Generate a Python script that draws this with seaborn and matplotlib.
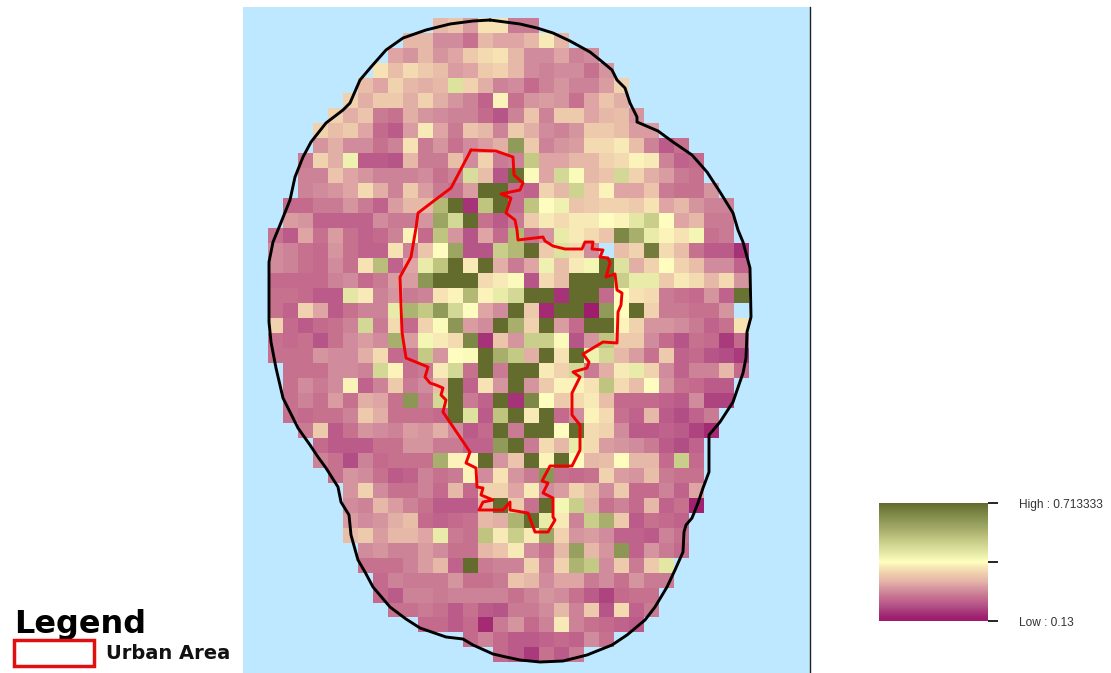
import matplotlib
matplotlib.use("Agg")
import matplotlib.pyplot as plt
from matplotlib.colors import LinearSegmentedColormap
from matplotlib.patches import Patch
import numpy as np
import seaborn as sns

_ = None

# cell values x 100, one list per raster row, blank cells are outside the buffer
row_00 = [_] * 11 + [33, 35, 30, 39, 39, 26, 26]
row_01 = [_] * 9 + [33, 33, 28, 28, 25, 33, 31, 31, 33, 40, 33]
row_02 = [_] * 8 + [31, 29, 33, 29, 31, 36, 38, 39, 33, 28, 28, 31, 27, 28]
row_03 = [_] * 7 + [39, 34, 38, 36, 34, 30, 31, 36, 37, 33, 28, 27, 28, 28, 25, 29]
row_04 = [_] * 6 + [34, 31, 37, 33, 32, 33, 48, 37, 32, 27, 28, 24, 27, 29, 27, 27, 30, 37]
row_05 = [_] * 5 + [37, 32, 36, 36, 32, 37, 32, 29, 27, 23, 41, 25, 29, 30, 29, 25, 31, 35, 32]
row_06 = [_] * 4 + [37, 32, 35, 26, 25, 32, 29, 28, 27, 27, 24, 21, 27, 35, 27, 36, 36, 31, 33, 34, 29]
row_07 = [_] * 3 + [37, 34, 36, 31, 24, 22, 30, 40, 31, 26, 35, 33, 27, 36, 32, 28, 27, 29, 36, 36, 34, 30, 30]
row_08 = [_] * 3 + [29, 32, 28, 28, 25, 27, 39, 26, 29, 25, 28, 30, 32, 62, 36, 27, 29, 30, 38, 38, 40, 34, 27, 22, 25]
row_09 = [_] * 2 + [26, 37, 32, 45, 22, 22, 21, 33, 26, 26, 34, 28, 37, 26, 27, 53, 31, 31, 33, 33, 37, 38, 41, 40, 27, 23, 24]
row_10 = [_] * 2 + [27, 27, 35, 31, 29, 27, 27, 27, 28, 25, 27, 49, 34, 21, 70, 43, 31, 50, 43, 33, 35, 50, 37, 32, 30, 26, 25]
row_11 = [_] * 2 + [27, 28, 29, 31, 38, 32, 27, 36, 30, 26, 25, 30, 71, 71, 24, 23, 37, 33, 51, 36, 41, 31, 31, 35, 26, 25, 25, 29]
row_12 = [_] * 1 + [24, 24, 26, 26, 29, 26, 23, 30, 33, 33, 56, 71, 17, 54, 71, 24, 54, 42, 45, 35, 36, 37, 37, 36, 39, 31, 33, 29, 27, 27]
row_13 = [_] * 1 + [30, 29, 23, 23, 23, 23, 28, 26, 26, 29, 60, 50, 71, 25, 22, 26, 36, 40, 38, 40, 40, 42, 41, 47, 52, 42, 31, 33, 26, 26]
row_14 = [25, 22, 31, 25, 30, 25, 23, 24, 27, 41, 24, 54, 29, 21, 31, 24, 56, 25, 29, 46, 40, 38, 35, 66, 58, 46, 41, 39, 44, 25, 26]
row_15 = [28, 27, 25, 24, 29, 25, 23, 23, 39, 27, 35, 42, 60, 21, 21, 52, 56, 71, 36, 48, 38, 28, _, 34, 37, 68, 38, 34, 25, 22, 22, 17]
row_16 = [28, 27, 25, 24, 28, 25, 39, 55, 23, 31, 46, 54, 71, 40, 71, 32, 26, 31, 45, 34, 40, 44, 71, 48, 32, 37, 42, 37, 34, 28, 28, 23]
row_17 = [24, 24, 24, 24, 27, 28, 24, 26, 30, 30, 63, 71, 71, 71, 38, 40, 43, 21, 38, 34, 71, 71, 71, 52, 46, 46, 36, 40, 38, 33, 38, 29]
row_18 = [25, 25, 24, 22, 22, 47, 40, 27, 29, 26, 27, 39, 41, 56, 41, 46, 50, 71, 71, 17, 71, 71, 24, 42, 39, 38, 26, 25, 24, 29, 23, 70]
row_19 = [25, 23, 37, 31, 22, 25, 27, 27, 46, 57, 53, 62, 50, 42, 31, 28, 71, 36, 16, 71, 71, 14, 62, 42, 71, 37, 26, 26, 25, 25, 29, _]
row_20 = [37, 24, 22, 24, 25, 27, 50, 26, 38, 24, 37, 43, 63, 30, 28, 71, 58, 37, 71, 30, 24, 71, 71, 41, 37, 29, 29, 28, 26, 23, 25, 39]
row_21 = [25, 24, 25, 21, 25, 28, 30, 28, 58, 30, 44, 40, 38, 66, 17, 35, 29, 52, 52, 43, 21, 29, 54, 36, 36, 28, 24, 21, 25, 24, 18, 24]
row_22 = [25, 25, 25, 29, 28, 28, 32, 38, 24, 25, 53, 29, 42, 43, 71, 58, 53, 32, 71, 39, 71, 45, 50, 33, 30, 25, 36, 23, 24, 21, 20, 18]
row_23 = [_] * 1 + [25, 25, 25, 28, 28, 27, 50, 41, 25, 26, 40, 50, 25, 71, 26, 71, 71, 40, 37, 50, 26, 32, 40, 46, 37, 28, 23, 27, 27, 33, 24]
row_24 = [_] * 1 + [25, 28, 26, 28, 41, 23, 27, 36, 26, 28, 34, 71, 23, 39, 29, 71, 29, 36, 41, 41, 39, 54, 38, 34, 42, 29, 25, 24, 22, 22]
row_25 = [_] * 1 + [25, 27, 25, 30, 25, 32, 31, 25, 63, 26, 50, 71, 26, 23, 71, 17, 66, 42, 36, 38, 40, 34, 24, 24, 24, 23, 22, 28, 19, 19]
row_26 = [_] * 1 + [25, 24, 25, 25, 27, 36, 32, 25, 25, 25, 24, 71, 48, 22, 54, 71, 40, 71, 24, 28, 41, 38, 25, 23, 33, 22, 20, 23, 26]
row_27 = [_] * 2 + [26, 36, 22, 25, 29, 28, 27, 30, 29, 32, 28, 22, 24, 71, 26, 71, 71, 42, 71, 38, 37, 28, 22, 22, 23, 22, 19, 16]
row_28 = [_] * 3 + [24, 22, 22, 22, 25, 25, 29, 29, 26, 26, 23, 23, 62, 71, 26, 38, 33, 46, 38, 30, 29, 28, 26, 22, 20, 23]
row_29 = [_] * 3 + [27, 25, 20, 27, 24, 25, 25, 25, 58, 41, 41, 71, 29, 35, 71, 41, 71, 42, 33, 34, 42, 33, 33, 24, 52, 24]
row_30 = [_] * 4 + [25, 29, 28, 25, 22, 23, 27, 25, 26, 41, 28, 39, 29, 26, 63, 25, 24, 25, 37, 30, 29, 34, 26, 25, 25]
row_31 = [_] * 5 + [29, 37, 28, 25, 25, 27, 24, 33, 24, 37, 37, 31, 40, 28, 30, 37, 33, 28, 36, 24, 24, 27, 23, 31]
row_32 = [_] * 5 + [28, 27, 33, 30, 27, 25, 22, 22, 22, 33, 71, 36, 25, 71, 44, 52, 32, 25, 27, 24, 33, 23, 25, 15]
row_33 = [_] * 5 + [30, 28, 29, 32, 34, 24, 23, 24, 25, 33, 32, 57, 71, 46, 40, 27, 52, 58, 36, 22, 25, 24, 23]
row_34 = [_] * 5 + [34, 36, 30, 33, 33, 31, 46, 26, 25, 54, 40, 52, 40, 60, 37, 29, 30, 28, 23, 23, 22, 27, 25]
row_35 = [_] * 6 + [28, 29, 27, 27, 30, 28, 25, 25, 33, 35, 40, 28, 25, 33, 61, 33, 29, 63, 23, 29, 26, 24]
row_36 = [_] * 6 + [25, 25, 25, 27, 30, 33, 23, 71, 26, 27, 27, 37, 27, 37, 57, 53, 28, 36, 26, 36, 47]
row_37 = [_] * 7 + [24, 27, 26, 26, 26, 29, 25, 25, 26, 35, 33, 28, 31, 31, 26, 28, 25, 29, 26, 26]
row_38 = [_] * 7 + [24, 22, 27, 27, 26, 27, 27, 27, 27, 25, 27, 29, 28, 25, 22, 19, 24, 25, 25]
row_39 = [_] * 8 + [25, 25, 26, 25, 22, 25, 22, 21, 26, 26, 28, 33, 27, 36, 21, 38, 23, 26]
row_40 = [_] * 10 + [24, 24, 22, 24, 16, 26, 29, 24, 27, 40, 27, 25, 24, 23, 22]
row_41 = [_] * 13 + [24, 27, 24, 22, 22, 23, 24, 23, 28, 25]
row_42 = [_] * 15 + [24, 22, 18, 25, 22, 26]

rows = [
    row_00, row_01, row_02, row_03, row_04, row_05, row_06, row_07, row_08, row_09, row_10,
    row_11, row_12, row_13, row_14, row_15, row_16, row_17, row_18, row_19, row_20, row_21,
    row_22, row_23, row_24, row_25, row_26, row_27, row_28, row_29, row_30, row_31, row_32,
    row_33, row_34, row_35, row_36, row_37, row_38, row_39, row_40, row_41, row_42,
]

# study area outline and urban area boundary, read in picture pixels
buffer_x = [490, 520, 537, 553, 570, 590, 600, 612, 617, 625, 630, 637, 637, 658, 673, 692, 707, 720, 733, 738,
            743, 750, 751, 747, 746, 743, 733, 720, 709, 709, 703, 698, 692, 686, 684, 683, 675, 667, 655, 645,
            627, 612, 587, 563, 540, 520, 506, 493, 473, 463, 446, 420, 406, 390, 373, 365, 358, 351, 349, 341,
            338, 326, 318, 310, 298, 283, 276, 271, 269, 269, 273, 280, 290, 295, 303, 311, 326, 343, 350, 360,
            371, 386, 403, 426, 450, 473, 490]
buffer_y = [20, 24, 28, 33, 41, 52, 60, 70, 80, 88, 103, 117, 122, 131, 142, 155, 172, 192, 213, 230,
            242, 268, 317, 332, 358, 373, 402, 422, 435, 472, 488, 503, 518, 525, 532, 552, 570, 587, 607, 620,
            635, 645, 655, 661, 662, 660, 657, 654, 645, 639, 637, 628, 619, 607, 587, 572, 560, 535, 515, 502,
            487, 468, 457, 445, 428, 398, 368, 342, 322, 262, 242, 225, 200, 177, 157, 142, 123, 110, 103, 80,
            67, 50, 38, 30, 24, 21, 20]

urban_x = [471, 496, 513, 514, 523, 520, 501, 511, 506, 515, 517, 518, 543, 545, 553, 565, 582, 585, 593, 592,
           603, 600, 608, 610, 606, 615, 617, 622, 621, 618, 617, 603, 583, 589, 587, 573, 580, 572, 572, 580,
           580, 572, 550, 542, 548, 543, 553, 553, 555, 548, 535, 528, 510, 510, 503, 479, 483, 493, 481, 483,
           477, 476, 466, 470, 443, 446, 441, 443, 436, 430, 425, 428, 406, 402, 400, 411, 416, 418, 435, 451, 471]
urban_y = [150, 151, 157, 175, 183, 190, 194, 198, 213, 220, 230, 240, 237, 241, 246, 249, 249, 242, 242, 249,
           250, 257, 258, 263, 277, 274, 290, 293, 305, 312, 343, 342, 354, 362, 368, 372, 377, 393, 415, 425,
           450, 466, 466, 481, 483, 493, 498, 517, 520, 532, 532, 513, 510, 502, 510, 510, 502, 500, 495, 488,
           487, 468, 463, 452, 412, 400, 395, 388, 385, 383, 377, 367, 358, 332, 277, 257, 228, 213, 200, 188, 150]

value_stops = [13, 15, 20, 22, 25, 28, 31, 33, 36, 38, 40, 42.17, 46, 50, 54, 58, 63, 71.33]
value_colors = ["#9e1a6e", "#a0216f", "#b04e85", "#bc5c8a", "#c6728f", "#d08c9c", "#dea6a4", "#e6b8a8", "#edcaac",
                "#f3dab0", "#f8eab6", "#ffffc0", "#e8eca8", "#d3d896", "#bfc47f", "#a8ae6b", "#8c9755", "#636b2c"]
bar_ticks = [0.13, 0.42167, 0.713333]
bar_labels = ["Low : 0.13", "", "High : 0.713333"]

W, H = 1111, 673
CELL_W, CELL_H = 15.03, 14.98
X0, Y0 = 268, 18.3

sns.set_style("white")
plt.rcParams["font.family"] = ["DejaVu Sans"]

grid = np.full((len(rows), 32), np.nan)
for j, row in enumerate(rows):
    for i, v in enumerate(row):
        if v is not None:
            grid[j, i] = v / 100

span = value_stops[-1] - value_stops[0]
cmap = LinearSegmentedColormap.from_list(
    "ramp", [((s - value_stops[0]) / span, c) for s, c in zip(value_stops, value_colors)], N=512
)


def box(left, top, right, bottom):
    return [left / W, 1 - bottom / H, (right - left) / W, (bottom - top) / H]


fig = plt.figure(figsize=(W / 100, H / 100), dpi=100, facecolor="white")
ax = fig.add_axes(box(243, 7, 810, 673))
cax = fig.add_axes(box(879, 503, 988, 621))

sns.heatmap(grid, cmap=cmap, vmin=0.13, vmax=0.713333, ax=ax, cbar_ax=cax,
            xticklabels=False, yticklabels=False, cbar_kws={"ticks": bar_ticks})

ax.set_facecolor("#bee8ff")
ax.set_xlim((243 - X0) / CELL_W, (810 - X0) / CELL_W)
ax.set_ylim((673 - Y0) / CELL_H, (7 - Y0) / CELL_H)
for side in ["top", "left", "bottom"]:
    ax.spines[side].set_visible(False)
ax.spines["right"].set_visible(True)
ax.spines["right"].set_color("#222222")
ax.spines["right"].set_linewidth(1)

ax.plot((np.array(buffer_x) - X0) / CELL_W, (np.array(buffer_y) - Y0) / CELL_H,
        color="black", lw=2.1, solid_joinstyle="round")
ax.plot((np.array(urban_x) - X0) / CELL_W, (np.array(urban_y) - Y0) / CELL_H,
        color="#f00000", lw=2.1, solid_joinstyle="round")

cax.set_yticklabels(bar_labels, fontsize=8.6, family="Liberation Sans", color="#333333")
cax.tick_params(axis="y", length=7, width=1.2, pad=15, color="black", right=True, left=False)

leg = fig.legend(
    handles=[Patch(facecolor="white", edgecolor="#e01010", linewidth=2.5, label="Urban Area")],
    title="Legend", loc="lower left", bbox_to_anchor=(10 / W, 3 / H), frameon=False,
    alignment="left", fontsize=14, labelcolor="#111111",
    title_fontproperties={"size": 23, "weight": "bold"},
    handlelength=4.1, handleheight=1.7, handletextpad=0.65, borderpad=0.2, borderaxespad=0,
    labelspacing=0,
)
leg.get_title().set_color("black")
for t in leg.get_texts():
    t.set_fontweight("bold")

fig.savefig("out.png", dpi=100)
